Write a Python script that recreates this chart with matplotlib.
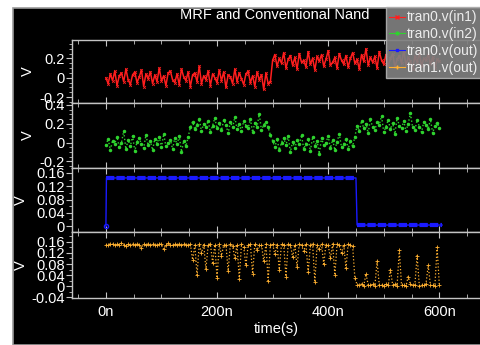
import numpy as np
import matplotlib
matplotlib.use("Agg")
import matplotlib.pyplot as plt
from matplotlib.patches import Rectangle
from matplotlib.lines import Line2D
from matplotlib.ticker import MultipleLocator, FuncFormatter

plt.rcParams['font.family'] = ['Liberation Sans', 'DejaVu Sans']

# signals sampled every 4 ns from 0 to 600 ns (151 samples)
in1_cv = [0, -6, 4, -3, 7, -8, 2, 5, -4, 9,
          -2, -7, 3, 6, -5, 1, 8, -9, 4, -1,
          6, -6, 3, -4, 10, -3, 2, -8, 5, 7,
          -2, -5, 4, -7, 9, 1, -3, 6, -9, 3,
          5, -4, 12, -6, 2, -2, 7, -8, 4, 0,
          -5, 8, -3, 6, -10, 3, 1, -6, 9, -4,
          5, -1, -7, 4, 7, -5, 2, -9, 6, -2,
          3, -12, 5, -6, -4, 18, 24, 12, 20, 15,
          26, 10, 19, 23, 13, 21, 9, 25, 16, 18,
          11, 27, 14, 20, 8, 22, 17, 24, 12, 19,
          28, 13, 16, 21, 10, 25, 18, 14, 23, 11,
          20, 26, 15, 19, 9, 24, 17, 30, 13, 21,
          16, 22, 10, 27, 18, 14, 24, 12, 20, 25,
          11, 19, 23, 15, 28, 13, 21, 17, 9, 22,
          16, 26, 12, 20, 18, 24, 14, 21, 10, 19,
          17]

in2_cv = [-3, 4, -8, 2, -1, 6, -5, 0, 12, -7,
          3, -4, 7, -9, 1, 5, -2, -6, 8, -3,
          2, -8, 4, -1, 6, -5, 9, -4, 0, 3,
          -7, 5, -2, 7, -10, 2, -4, 6, 16, 22,
          14, 19, 25, 12, 20, 17, 23, 11, 18, 26,
          15, 21, 13, 24, 19, 10, 22, 16, 27, 14,
          20, 12, 23, 18, 15, 25, 11, 21, 17, 30,
          13, 19, 22, 16, 8, 2, -5, 4, -8, 0,
          5, -3, 7, -10, 1, -6, 3, -2, 8, -7,
          -1, 4, -9, 6, -4, 2, -12, 5, -3, 0,
          7, -6, 3, -8, 1, 9, -5, -2, 4, -7,
          2, -4, 6, 18, 12, 23, 15, 20, 10, 25,
          16, 13, 22, 19, 28, 11, 17, 24, 14, 21,
          9, 26, 18, 15, 23, 12, 20, 31, 16, 13,
          24, 17, 11, 22, 19, 14, 25, 10, 18, 21,
          15]

out1_mv = [150, 148, 153, 151, 147, 152, 149, 155, 150, 146,
           152, 149, 151, 148, 153, 150, 138, 151, 149, 152,
           147, 153, 150, 148, 152, 151, 133, 149, 154, 150,
           148, 152, 149, 151, 147, 153, 150, 149, 152, 95,
           148, 40, 151, 120, 150, 62, 147, 153, 85, 149,
           30, 152, 110, 148, 150, 55, 151, 146, 100, 150,
           25, 153, 140, 75, 149, 151, 45, 152, 130, 148,
           150, 90, 151, 20, 149, 153, 115, 150, 60, 152,
           148, 35, 151, 150, 105, 149, 70, 153, 147, 125,
           152, 50, 150, 151, 15, 148, 135, 153, 80, 150,
           149, 100, 152, 40, 151, 148, 120, 150, 65, 153,
           149, 145, 30, 6, 3, 8, 2, 45, 5, 4,
           7, 1, 90, 4, 6, 2, 9, 3, 60, 5,
           8, 2, 130, 4, 6, 1, 35, 7, 3, 5,
           110, 2, 6, 4, 9, 75, 3, 5, 1, 140,
           4]

# tran0 out is a clean step
out0_t = [0, 1, 450, 452, 605]
out0_v = [0.0, 0.145, 0.145, 0.003, 0.003]

t = np.linspace(0, 600, len(in1_cv))
in1 = np.array(in1_cv) / 100.0
in2 = np.array(in2_cv) / 100.0
out1 = np.array(out1_mv) / 1000.0

red = '#ff1e1e'
green = '#2ed22e'
blue = '#1a1aff'
orange = '#ffb030'
grey = '#c4c4c4'

fig = plt.figure(figsize=(4.81, 3.45), dpi=100)
fig.patch.set_facecolor('white')
fig.patches.append(Rectangle((13 / 481, 0), 1, 1 - 8 / 345, transform=fig.transFigure,
                             facecolor='black', edgecolor='#9a9a9a', lw=1.2, zorder=-10))

tops = [40, 103, 168, 232, 298]
axes = []
for i in range(4):
    b = 1 - tops[i + 1] / 345
    h = (tops[i + 1] - tops[i]) / 345
    ax = fig.add_axes([72 / 481, b, 1 - 72 / 481, h])
    ax.set_facecolor('black')
    axes.append(ax)

fmt = FuncFormatter(lambda v, p: '%g' % round(v, 4))

axes[0].plot(t, in1, color=red, lw=1.1, marker='x', ms=2, mew=0.6)
axes[0].set_ylim(-0.26, 0.39)
axes[0].yaxis.set_major_locator(MultipleLocator(0.2))
axes[0].yaxis.set_minor_locator(MultipleLocator(0.05))

axes[1].plot(t, in2, color=green, lw=1.0, ls=':', marker='o', ms=1.5)
axes[1].set_ylim(-0.27, 0.42)
axes[1].yaxis.set_major_locator(MultipleLocator(0.2))
axes[1].yaxis.set_minor_locator(MultipleLocator(0.05))

# thin trace for the whole step, thick dashed band on the flat parts only
axes[2].plot(out0_t, out0_v, color=blue, lw=1.0)
axes[2].plot(out0_t[1:3], out0_v[1:3], color=blue, lw=3, ls=(0, (2.0, 0.5)),
             dash_capstyle='butt')
axes[2].plot(out0_t[3:], out0_v[3:], color=blue, lw=3, ls=(0, (2.0, 0.5)),
             dash_capstyle='butt')
axes[2].plot(out0_t[:1], out0_v[:1], color=blue, marker='o', ms=3, mfc='none')
axes[2].set_ylim(-0.018, 0.175)
axes[2].yaxis.set_major_locator(MultipleLocator(0.04))
axes[2].yaxis.set_minor_locator(MultipleLocator(0.02))

axes[3].plot(t, out1, color=orange, lw=0.9, ls=':', marker='+', ms=2.5, mew=0.6)
axes[3].set_ylim(-0.042, 0.195)
axes[3].yaxis.set_major_locator(MultipleLocator(0.04))
axes[3].yaxis.set_minor_locator(MultipleLocator(0.02))

for i, ax in enumerate(axes):
    ax.set_xlim(-61, 675)
    ax.xaxis.set_major_locator(MultipleLocator(200))
    ax.xaxis.set_minor_locator(MultipleLocator(50))
    ax.xaxis.set_major_formatter(FuncFormatter(lambda v, p: '%dn' % v))
    ax.yaxis.set_major_formatter(fmt)
    for s in ['left', 'top', 'bottom']:
        ax.spines[s].set_color(grey)
        ax.spines[s].set_linewidth(1.0)
    ax.spines['right'].set_visible(False)
    ax.tick_params(axis='x', which='both', direction='in', top=True, bottom=True,
                   colors=grey, labelcolor='white', labelsize=10.5, pad=5)
    ax.tick_params(axis='x', which='major', length=4)
    ax.tick_params(axis='x', which='minor', length=3)
    ax.tick_params(axis='y', which='both', direction='out', colors=grey,
                   labelcolor='white', labelsize=10.5, pad=1)
    ax.tick_params(axis='y', which='major', length=4)
    ax.tick_params(axis='y', which='minor', length=2)
    if i < 3:
        ax.tick_params(axis='x', labelbottom=False)
    ax.set_ylabel('V', color='white', fontsize=10.5)
    ax.yaxis.set_label_coords(-0.09 if i < 2 else -0.108, 0.5)

axes[3].set_xlabel('time(s)', color='white', fontsize=10.5, labelpad=2)

fig.text(275 / 481, 1 - 15 / 345, 'MRF and Conventional Nand', color='white',
         fontsize=10.5, ha='center', va='center')

handles = [
    Line2D([], [], color=red, lw=0.8, marker='x', ms=3),
    Line2D([], [], color=green, lw=0.8, marker='o', ms=2),
    Line2D([], [], color=blue, lw=0.8, marker='s', ms=2),
    Line2D([], [], color=orange, lw=0.8, marker='+', ms=3),
]
labels = ['tran0.v(in1)', 'tran0.v(in2)', 'tran0.v(out)', 'tran1.v(out)']
leg = fig.legend(handles, labels, loc='upper left', bbox_to_anchor=(386 / 481, 1 - 7 / 345),
                 fontsize=10, labelcolor='#ececec', facecolor='#808080', edgecolor='#b0b0b0',
                 framealpha=0.92, fancybox=False, handlelength=1.1, handletextpad=0.15,
                 borderpad=0.25, labelspacing=0.2, borderaxespad=0)
leg.set_zorder(10)

fig.savefig('out.png', dpi=100, facecolor=fig.get_facecolor())
